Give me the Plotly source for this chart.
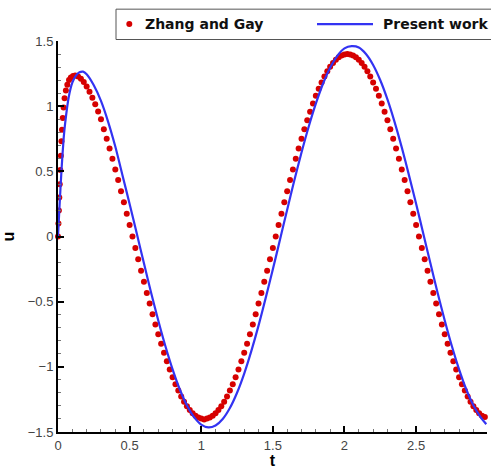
import plotly.graph_objects as go

# ---- Present work (blue line) ----
t_blue = [0.0, 0.01, 0.025, 0.04, 0.05, 0.075, 0.1, 0.125, 0.15, 0.175, 0.2, 0.25,
          0.3, 0.35, 0.4, 0.45, 0.5, 0.55, 0.6, 0.65, 0.7, 0.75, 0.8, 0.85, 0.9,
          0.95, 1.0, 1.05, 1.1, 1.15, 1.2, 1.25, 1.3, 1.35, 1.4, 1.45, 1.5, 1.55,
          1.6, 1.65, 1.7, 1.75, 1.8, 1.85, 1.9, 1.95, 2.0, 2.05, 2.1, 2.15, 2.2,
          2.25, 2.3, 2.35, 2.4, 2.45, 2.5, 2.55, 2.6, 2.65, 2.7, 2.75, 2.8, 2.85,
          2.9, 2.95, 2.99]
u_blue = [0.0, 0.22, 0.52, 0.76, 0.87, 1.07, 1.18, 1.235, 1.26, 1.265, 1.245, 1.16,
          1.04, 0.88, 0.69, 0.47, 0.25, 0.023, -0.206, -0.431, -0.644, -0.842, -1.019,
          -1.172, -1.295, -1.386, -1.443, -1.465, -1.45, -1.4, -1.316, -1.199, -1.052,
          -0.878, -0.684, -0.471, -0.252, -0.023, 0.206, 0.431, 0.644, 0.842, 1.019,
          1.172, 1.295, 1.386, 1.443, 1.46, 1.45, 1.4, 1.316, 1.199, 1.052, 0.878,
          0.684, 0.471, 0.252, 0.023, -0.206, -0.431, -0.644, -0.842, -1.019, -1.172,
          -1.295, -1.386, -1.44]

# ---- Zhang and Gay (red dots) ----
t_red = [0.0, 0.003, 0.006, 0.009, 0.012, 0.016, 0.02, 0.024, 0.028, 0.033, 0.039,
         0.046, 0.055, 0.065, 0.077, 0.09, 0.105, 0.12, 0.14, 0.16, 0.18, 0.2, 0.22,
         0.24, 0.26, 0.28, 0.3, 0.32, 0.34, 0.36, 0.38, 0.4, 0.42, 0.44, 0.46, 0.48,
         0.5, 0.52, 0.54, 0.56, 0.58, 0.6, 0.62, 0.64, 0.66, 0.68, 0.7, 0.72, 0.74,
         0.76, 0.78, 0.8, 0.82, 0.84, 0.86, 0.88, 0.9, 0.92, 0.94, 0.96, 0.98, 1.0,
         1.02, 1.04, 1.06, 1.08, 1.1, 1.12, 1.14, 1.16, 1.18, 1.2, 1.22, 1.24, 1.26,
         1.28, 1.3, 1.32, 1.34, 1.36, 1.38, 1.4, 1.42, 1.44, 1.46, 1.48, 1.5, 1.52,
         1.54, 1.56, 1.58, 1.6, 1.62, 1.64, 1.66, 1.68, 1.7, 1.72, 1.74, 1.76, 1.78,
         1.8, 1.82, 1.84, 1.86, 1.88, 1.9, 1.92, 1.94, 1.96, 1.98, 2.0, 2.02, 2.04,
         2.06, 2.08, 2.1, 2.12, 2.14, 2.16, 2.18, 2.2, 2.22, 2.24, 2.26, 2.28, 2.3,
         2.32, 2.34, 2.36, 2.38, 2.4, 2.42, 2.44, 2.46, 2.48, 2.5, 2.52, 2.54, 2.56,
         2.58, 2.6, 2.62, 2.64, 2.66, 2.68, 2.7, 2.72, 2.74, 2.76, 2.78, 2.8, 2.82,
         2.84, 2.86, 2.88, 2.9, 2.92, 2.94, 2.96, 2.98]
u_red = [0.0, 0.1, 0.2, 0.3, 0.4, 0.51, 0.62, 0.73, 0.82, 0.91, 0.99,
         1.06, 1.12, 1.165, 1.2, 1.22, 1.232, 1.235, 1.228, 1.21, 1.185, 1.15, 1.11,
         1.065, 1.015, 0.96, 0.9, 0.823, 0.75, 0.675, 0.596, 0.515, 0.433, 0.348, 0.262, 0.175,
         0.088, 0.0, -0.088, -0.175, -0.262, -0.348, -0.433, -0.515, -0.596, -0.675, -0.75, -0.823, -0.892,
         -0.958, -1.021, -1.079, -1.133, -1.182, -1.227, -1.267, -1.302, -1.332, -1.356, -1.375, -1.389, -1.397,
         -1.405, -1.397, -1.389, -1.375, -1.356, -1.332, -1.302, -1.267, -1.227, -1.182, -1.133, -1.079, -1.021,
         -0.958, -0.892, -0.823, -0.75, -0.675, -0.596, -0.515, -0.433, -0.348, -0.262, -0.175, -0.088, 0.0,
         0.088, 0.175, 0.262, 0.348, 0.433, 0.515, 0.596, 0.675, 0.75, 0.823, 0.892, 0.958, 1.021,
         1.079, 1.133, 1.182, 1.227, 1.267, 1.302, 1.332, 1.356, 1.375, 1.389, 1.397, 1.4, 1.397,
         1.389, 1.375, 1.356, 1.332, 1.302, 1.267, 1.227, 1.182, 1.133, 1.079, 1.021, 0.958, 0.892,
         0.823, 0.75, 0.675, 0.596, 0.515, 0.433, 0.348, 0.262, 0.175, 0.088, 0.0, -0.088, -0.175,
         -0.262, -0.348, -0.433, -0.515, -0.596, -0.675, -0.75, -0.823, -0.892, -0.958, -1.021, -1.079,
         -1.133, -1.182, -1.227, -1.267, -1.302, -1.332, -1.356, -1.375, -1.385]

x_ticks = [0, 0.5, 1, 1.5, 2, 2.5]
y_ticks = [-1.5, -1, -0.5, 0, 0.5, 1, 1.5]
series_names = ["Zhang and Gay", "Present work"]
red = "#d60000"
blue = "#3333f2"

# plot-area geometry (pixels) used to place the hand-made legend box
W, H = 491, 469
ML, MR, MT, MB = 58, 4, 41, 35
PW, PH = W - ML - MR, H - MT - MB


def px(x):
    return (x - ML) / PW


def py(y):
    return (H - MB - y) / PH


fig = go.Figure()
fig.add_trace(go.Scatter(
    x=t_red, y=u_red, mode="markers", name=series_names[0],
    marker=dict(color=red, size=6, line=dict(width=0)),
    cliponaxis=False, showlegend=False,
))
fig.add_trace(go.Scatter(
    x=t_blue, y=u_blue, mode="lines", name=series_names[1],
    line=dict(color=blue, width=2.2, shape="spline", smoothing=0.7),
    showlegend=False,
))

axis_common = dict(
    showline=True, linecolor="black", linewidth=2, mirror=False,
    ticks="inside", ticklen=6, tickwidth=2, tickcolor="black",
    showgrid=False, zeroline=False,
    tickfont=dict(family="Liberation Sans", size=13, color="#444444"),
)

fig.update_xaxes(
    range=[0, 2.995], tickvals=x_ticks, ticktext=[str(v) for v in x_ticks],
    minor=dict(ticks="inside", ticklen=3, tickwidth=1, tickcolor="#777777", dtick=0.1, tick0=0),
    title=dict(text="<b>t</b>", font=dict(family="Liberation Sans", size=16, color="black"), standoff=1),
    **axis_common,
)
fig.update_yaxes(
    range=[-1.5, 1.5], tickvals=y_ticks,
    minor=dict(ticks="inside", ticklen=3, tickwidth=1, tickcolor="#777777", dtick=0.1, tick0=0),
    title=dict(text="<b>u</b>", font=dict(family="Liberation Sans", size=16, color="black"), standoff=12),
    **axis_common,
)

# custom legend (box, symbol, line sample, labels)
legend_font = dict(family="DejaVu Sans", size=14, color="#111111", weight="bold")
shapes = [
    dict(type="rect", xref="paper", yref="paper", x0=px(116), x1=px(493), y0=py(39.5), y1=py(9),
         line=dict(color="#555555", width=1), fillcolor="white", layer="above"),
    dict(type="circle", xref="paper", yref="paper", x0=px(126.3), x1=px(132.3), y0=py(27), y1=py(21),
         line=dict(width=0), fillcolor=red, layer="above"),
    dict(type="line", xref="paper", yref="paper", x0=px(317), x1=px(373), y0=py(24), y1=py(24),
         line=dict(color=blue, width=2.2), layer="above"),
]
annotations = [
    dict(xref="paper", yref="paper", x=px(143), y=py(24), xanchor="left", yanchor="middle",
         text=series_names[0], showarrow=False, font=legend_font),
    dict(xref="paper", yref="paper", x=px(381), y=py(24), xanchor="left", yanchor="middle",
         text=series_names[1], showarrow=False, font=legend_font),
]

fig.update_layout(
    width=W, height=H,
    margin=dict(l=ML, r=MR, t=MT, b=MB),
    plot_bgcolor="white", paper_bgcolor="white",
    showlegend=False,
    shapes=shapes,
    annotations=annotations,
)

fig.write_html("out.html")
